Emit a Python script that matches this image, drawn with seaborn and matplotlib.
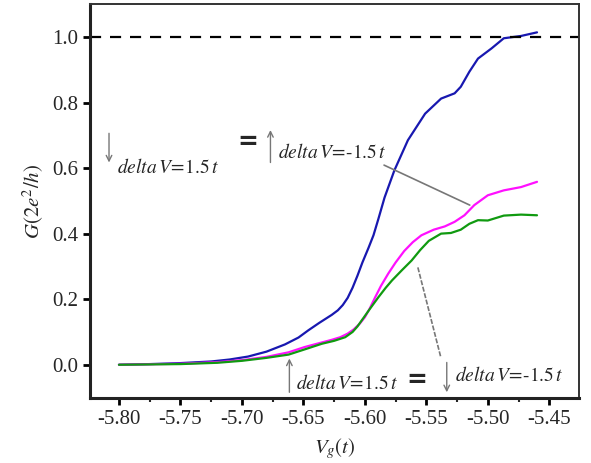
import numpy as np
import pandas as pd
import matplotlib
matplotlib.use("Agg")
import matplotlib.pyplot as plt
import seaborn as sns
from matplotlib.ticker import MultipleLocator, FormatStrFormatter

# curves
blue_x = [-5.800, -5.775, -5.750, -5.725, -5.710, -5.695, -5.680, -5.665, -5.654, -5.646,
          -5.637, -5.632, -5.627, -5.622, -5.618, -5.614, -5.610, -5.606, -5.602, -5.597,
          -5.593, -5.589, -5.584, -5.576, -5.565, -5.551, -5.538, -5.527, -5.522, -5.515,
          -5.508, -5.497, -5.487, -5.473, -5.460]
blue_g = [0.000, 0.002, 0.005, 0.010, 0.016, 0.025, 0.040, 0.062, 0.083, 0.105,
          0.128, 0.140, 0.152, 0.166, 0.182, 0.204, 0.235, 0.272, 0.312, 0.357,
          0.395, 0.445, 0.510, 0.593, 0.685, 0.766, 0.812, 0.828, 0.848, 0.894,
          0.934, 0.965, 0.996, 1.003, 1.014]

magenta_x = [-5.800, -5.750, -5.720, -5.700, -5.680, -5.662, -5.649, -5.638, -5.627, -5.620,
             -5.614, -5.609, -5.604, -5.600, -5.596, -5.592, -5.587, -5.581, -5.575, -5.568,
             -5.561, -5.554, -5.544, -5.535, -5.527, -5.519, -5.511, -5.500, -5.487, -5.473,
             -5.460]
magenta_g = [0.000, 0.003, 0.008, 0.014, 0.024, 0.038, 0.054, 0.065, 0.076, 0.084,
             0.095, 0.108, 0.126, 0.145, 0.172, 0.203, 0.240, 0.278, 0.312, 0.347,
             0.374, 0.395, 0.412, 0.422, 0.436, 0.456, 0.487, 0.517, 0.532, 0.542,
             0.558]

green_x = [-5.800, -5.750, -5.720, -5.700, -5.680, -5.662, -5.648, -5.635, -5.625, -5.616,
           -5.610, -5.606, -5.603, -5.596, -5.589, -5.583, -5.578, -5.570, -5.562, -5.555,
           -5.548, -5.538, -5.530, -5.522, -5.515, -5.508, -5.500, -5.487, -5.473, -5.460]
green_g = [0.000, 0.002, 0.006, 0.012, 0.021, 0.031, 0.048, 0.064, 0.073, 0.084,
           0.100, 0.117, 0.133, 0.170, 0.206, 0.235, 0.257, 0.288, 0.318, 0.350,
           0.378, 0.400, 0.402, 0.412, 0.430, 0.441, 0.440, 0.455, 0.458, 0.456]

quantum = 1.0

sns.set_style("ticks")
plt.rcParams['font.family'] = ['Liberation Serif', 'DejaVu Serif']
plt.rcParams['mathtext.fontset'] = 'stix'
plt.rcParams['axes.unicode_minus'] = False

fig = plt.figure(figsize=(5.91, 4.63), dpi=100)
ax = fig.add_axes([0.152, 0.140, 0.828, 0.851])

sns.lineplot(x=blue_x, y=blue_g, ax=ax, color="#1818b0", lw=1.6)
sns.lineplot(x=magenta_x, y=magenta_g, ax=ax, color="#ff10ff", lw=1.6)
sns.lineplot(x=green_x, y=green_g, ax=ax, color="#109a10", lw=1.6)
ax.axhline(quantum, color="black", lw=1.6, linestyle=(0, (5, 4)))

ax.set_xlim(-5.8237, -5.4257)
ax.set_ylim(-0.102, 1.10)
ax.xaxis.set_major_locator(MultipleLocator(0.05))
ax.xaxis.set_minor_locator(MultipleLocator(0.025))
ax.yaxis.set_major_locator(MultipleLocator(0.2))
ax.xaxis.set_major_formatter(FormatStrFormatter('%.2f'))
ax.yaxis.set_major_formatter(FormatStrFormatter('%.1f'))
ax.tick_params(axis='both', which='major', direction='out', length=5, width=2, labelsize=15, color='black')
ax.tick_params(axis='x', which='minor', direction='out', length=3, width=1.5)
for s in ['left', 'bottom']:
    ax.spines[s].set_linewidth(2.2)
    ax.spines[s].set_color('#222222')
for s in ['top', 'right']:
    ax.spines[s].set_linewidth(1.4)
    ax.spines[s].set_color('#333333')

ax.set_xlabel(r"$V_g(t)$", fontsize=15, labelpad=5)
ax.set_ylabel(r"$G(2e^2/h)$", fontsize=15, labelpad=4)

# annotations
gray = "#777777"
arr = dict(arrowstyle="->", color=gray, lw=1.0, shrinkA=0, shrinkB=0)
ts = 14
eq = dict(fontsize=18, fontweight='bold', family='DejaVu Sans', va='center', ha='left')
ax.annotate("", xy=(-5.8081, 0.617), xytext=(-5.8081, 0.706), arrowprops=arr)
ax.text(-5.8016, 0.602, r"$delta\,V\!=\!1.5\,t$", fontsize=ts, va='center', ha='left')
ax.text(-5.7040, 0.680, "=", **eq)
ax.annotate("", xy=(-5.6768, 0.716), xytext=(-5.6768, 0.617), arrowprops=arr)
ax.text(-5.6703, 0.648, r"$delta\,V\!=\!\text{-}1.5\,t$", fontsize=ts, va='center', ha='left')
ax.plot([-5.5844, -5.5147], [0.609, 0.487], color=gray, lw=1.2)

ax.annotate("", xy=(-5.6614, 0.019), xytext=(-5.6614, -0.084), arrowprops=arr)
ax.text(-5.6557, -0.057, r"$delta\,V\!=\!1.5\,t$", fontsize=ts, va='center', ha='left')
ax.text(-5.5660, -0.048, "=", **eq)
ax.plot([-5.5569, -5.5382], [0.297, 0.022], color=gray, lw=1.2, linestyle=(0, (3, 1)))
ax.annotate("", xy=(-5.5334, -0.084), xytext=(-5.5334, 0.007), arrowprops=arr)
ax.text(-5.5269, -0.033, r"$delta\,V\!=\!\text{-}1.5\,t$", fontsize=ts, va='center', ha='left')

fig.savefig("out.png", dpi=100, facecolor="white")
